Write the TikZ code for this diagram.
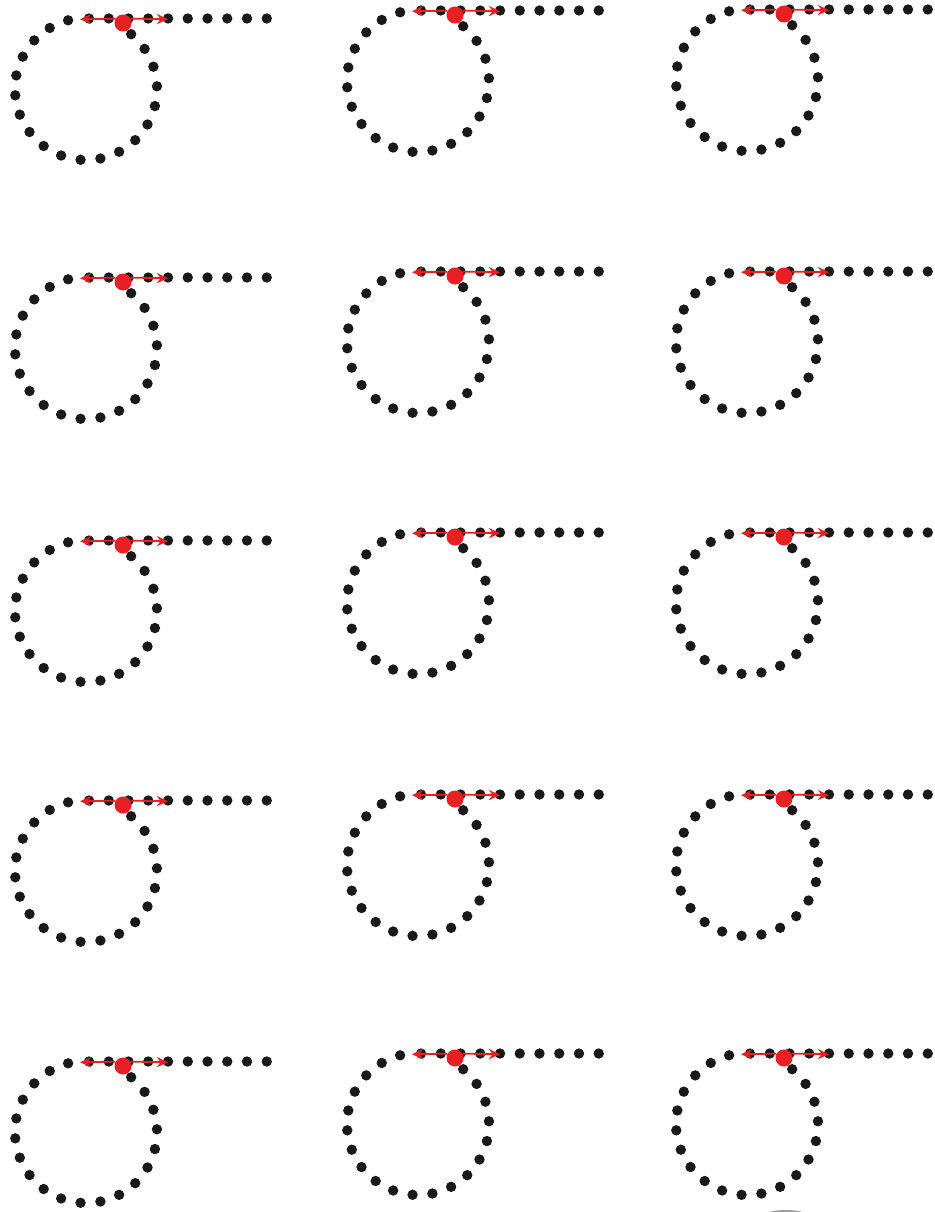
\documentclass[tikz,border=0pt]{standalone}
\usetikzlibrary{arrows.meta}
\definecolor{beadred}{RGB}{232,32,36}
\definecolor{linkblack}{RGB}{25,25,25}

\begin{document}
\begin{tikzpicture}[
    x=1pt, y=-1pt,
    link/.style={fill=linkblack},
    bead/.style={circle, fill=beadred, inner sep=0pt, minimum size=17pt},
    force/.style={-{Stealth[length=11pt, width=10pt]}, beadred, line width=1.8pt}
]
\useasboundingbox (0,0) rectangle (934,1212);
\foreach \bx/\by/\n in {123/23/1, 455/15/2, 784/14/3,
                        123/282/4, 455/276/5, 784/276/6,
                        123/545/7, 455/537/8, 784/537/9,
                        123/805/10, 455/799/11, 784/799/12,
                        123/1066/13, 455/1058/14, 784/1058/15} {
  \begin{scope}[shift={(\bx,\by)}]
    \foreach \k in {0,...,19}
      \fill[link] ({-37+71*cos(50.5-16.1*\k)}, {66-71*sin(50.5-16.1*\k)}) circle (5.2pt);
    \foreach \k in {0,...,9}
      \fill[link] ({-34+19.75*\k}, -4.5) circle (5.2pt);
    \node[bead] (bead\n) at (0,0) {};
    \coordinate (left\n) at (-43,-3.75);
    \coordinate (right\n) at (45,-3.75);
    \draw[force] (bead\n.150) -- (left\n);
    \draw[force] (bead\n.30) -- (right\n);
  \end{scope}
}
\fill[gray!75] (786,1217) ellipse (24pt and 7pt);
\end{tikzpicture}
\end{document}
